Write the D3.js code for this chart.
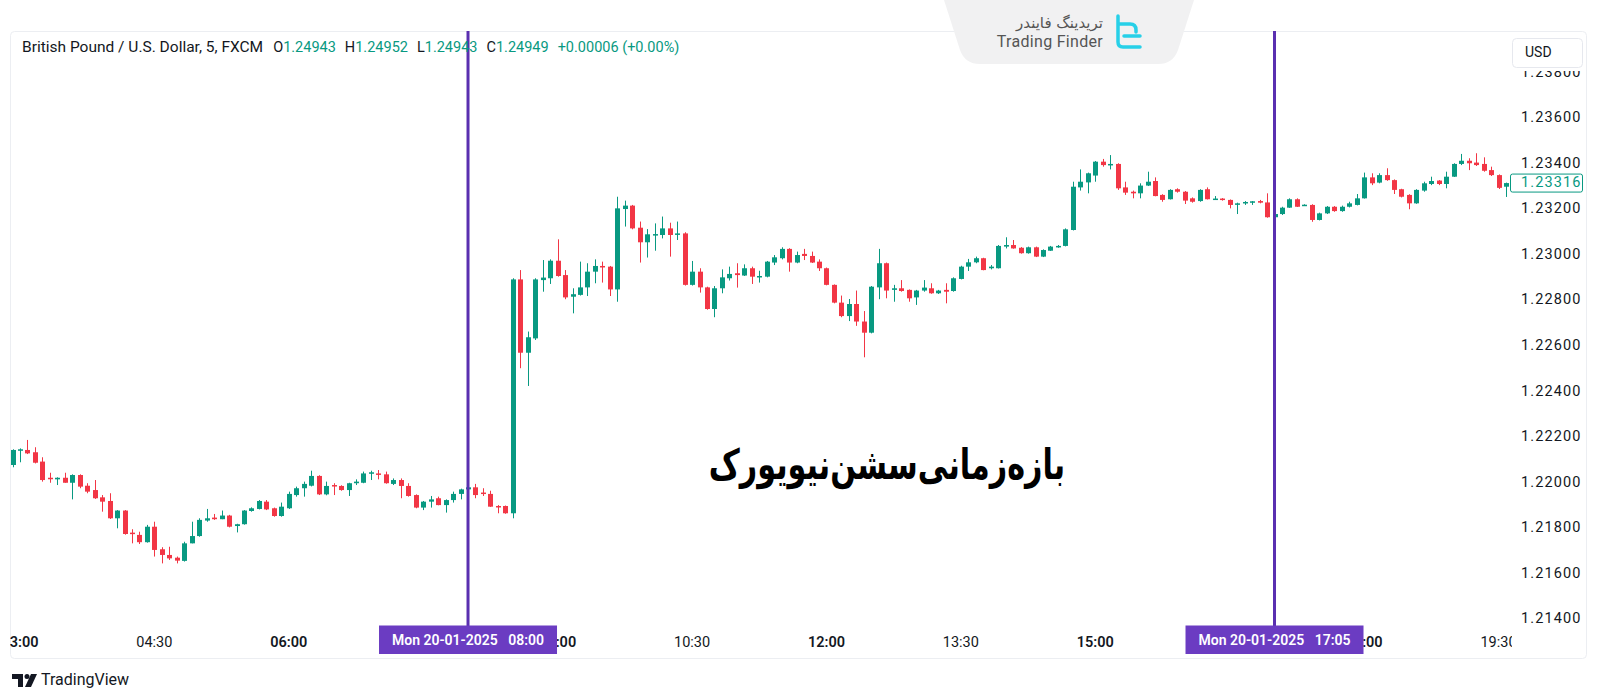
<!DOCTYPE html>
<html lang="en">
<head>
<meta charset="utf-8">
<title>GBPUSD 5m - New York session</title>
<script src="https://d3js.org/d3.v7.min.js"></script>
<style>
  body { margin: 0; background: #fff; }
  svg text { font-family: Roboto, "Noto Sans", sans-serif; }
</style>
</head>
<body>
<script>
// GBPUSD 5m candles, first bar 02:55, 20-01-2025
var open = [1.22078,1.22144,1.22144,1.22134,1.22093,1.22022,1.22015,1.22022,1.22000,1.22034,
1.21987,1.21968,1.21936,1.21920,1.21844,1.21878,1.21781,1.21771,1.21739,1.21807,
1.21708,1.21683,1.21671,1.21657,1.21734,1.21766,1.21834,1.21847,1.21840,1.21856,
1.21810,1.21818,1.21876,1.21885,1.21917,1.21888,1.21854,1.21888,1.21946,1.21976,
1.21987,1.22030,1.21949,1.21990,1.21986,1.21968,1.21998,1.22000,1.22041,1.22041,
1.22037,1.21995,1.22012,1.21986,1.21946,1.21891,1.21917,1.21932,1.21902,1.21924,
1.21951,1.21971,1.21980,1.21957,1.21951,1.21898,1.21898,1.21866,1.22893,1.22571,
1.22634,1.22890,1.22898,1.22975,1.22912,1.22817,1.22825,1.22858,1.22927,1.22952,
1.22949,1.22849,1.23202,1.23217,1.23120,1.23056,1.23088,1.23088,1.23117,1.23091,
1.23095,1.22869,1.22927,1.22858,1.22763,1.22854,1.22898,1.22920,1.22910,1.22942,
1.22902,1.22905,1.22967,1.22986,1.23027,1.22967,1.23005,1.22996,1.22971,1.22942,
1.22869,1.22791,1.22732,1.22785,1.22708,1.22659,1.22858,1.22964,1.22847,1.22854,
1.22847,1.22814,1.22844,1.22854,1.22832,1.22847,1.22842,1.22895,1.22949,1.22968,
1.22986,1.22942,1.22942,1.23037,1.23044,1.23032,1.23008,1.23034,1.22993,1.23019,
1.23034,1.23040,1.23110,1.23297,1.23319,1.23349,1.23410,1.23395,1.23400,1.23297,
1.23278,1.23271,1.23305,1.23325,1.23264,1.23245,1.23289,1.23278,1.23249,1.23237,
1.23289,1.23245,1.23248,1.23242,1.23223,1.23227,1.23233,1.23237,1.23231,1.23166,
1.23180,1.23208,1.23245,1.23218,1.23220,1.23154,1.23183,1.23212,1.23193,1.23212,
1.23220,1.23249,1.23341,1.23318,1.23351,1.23329,1.23289,1.23264,1.23227,1.23283,
1.23312,1.23327,1.23312,1.23344,1.23400,1.23414,1.23406,1.23400,1.23373,1.23351,
1.23300];
var high = [1.22147,1.22151,1.22188,1.22156,1.22112,1.22044,1.22024,1.22044,1.22037,1.22037,
1.21998,1.22012,1.21946,1.21954,1.21880,1.21880,1.21796,1.21785,1.21815,1.21829,
1.21717,1.21719,1.21676,1.21741,1.21829,1.21844,1.21885,1.21863,1.21878,1.21859,
1.21820,1.21880,1.21892,1.21924,1.21924,1.21891,1.21913,1.21961,1.21983,1.22005,
1.22053,1.22033,1.22005,1.21998,1.21989,1.22000,1.22015,1.22049,1.22053,1.22056,
1.22049,1.22019,1.22019,1.21998,1.21949,1.21920,1.21942,1.21939,1.21927,1.21961,
1.21974,1.21983,1.21995,1.21976,1.21965,1.21902,1.21900,1.22898,1.22934,1.22664,
1.22898,1.22978,1.22981,1.23069,1.22934,1.22854,1.22971,1.22964,1.22981,1.22971,
1.22952,1.23256,1.23239,1.23220,1.23147,1.23114,1.23139,1.23169,1.23142,1.23147,
1.23100,1.22974,1.22942,1.22861,1.22864,1.22937,1.22949,1.22964,1.22959,1.22949,
1.22931,1.22974,1.23000,1.23034,1.23030,1.23015,1.23027,1.23015,1.22981,1.22945,
1.22871,1.22822,1.22807,1.22844,1.22754,1.22864,1.23027,1.22967,1.22869,1.22890,
1.22849,1.22847,1.22890,1.22876,1.22847,1.22876,1.22902,1.22953,1.22983,1.22993,
1.22988,1.22956,1.23044,1.23078,1.23066,1.23035,1.23037,1.23037,1.23025,1.23040,
1.23044,1.23117,1.23322,1.23376,1.23362,1.23413,1.23422,1.23439,1.23403,1.23322,
1.23283,1.23315,1.23366,1.23341,1.23267,1.23289,1.23293,1.23281,1.23253,1.23289,
1.23297,1.23259,1.23250,1.23244,1.23230,1.23237,1.23237,1.23242,1.23271,1.23186,
1.23212,1.23249,1.23249,1.23223,1.23223,1.23186,1.23215,1.23215,1.23217,1.23234,
1.23268,1.23362,1.23359,1.23359,1.23381,1.23332,1.23291,1.23267,1.23289,1.23322,
1.23344,1.23329,1.23366,1.23403,1.23444,1.23425,1.23447,1.23429,1.23388,1.23354,
1.23318];
var low = [1.22068,1.22090,1.22126,1.22085,1.22005,1.22000,1.21990,1.22000,1.21927,1.21976,
1.21954,1.21929,1.21873,1.21841,1.21800,1.21772,1.21734,1.21731,1.21737,1.21676,
1.21646,1.21661,1.21646,1.21654,1.21734,1.21763,1.21829,1.21837,1.21840,1.21804,
1.21782,1.21816,1.21873,1.21883,1.21880,1.21851,1.21851,1.21885,1.21939,1.21939,
1.21984,1.21946,1.21945,1.21946,1.21965,1.21942,1.21990,1.21998,1.22012,1.22015,
1.21996,1.21990,1.21932,1.21939,1.21888,1.21880,1.21891,1.21901,1.21869,1.21913,
1.21927,1.21954,1.21932,1.21942,1.21894,1.21866,1.21864,1.21844,1.22503,1.22425,
1.22627,1.22839,1.22873,1.22905,1.22806,1.22744,1.22822,1.22820,1.22876,1.22879,
1.22820,1.22795,1.23125,1.23113,1.22967,1.22989,1.23019,1.23073,1.22993,1.23066,
1.22866,1.22866,1.22835,1.22760,1.22727,1.22832,1.22888,1.22857,1.22908,1.22873,
1.22879,1.22902,1.22956,1.22981,1.22927,1.22964,1.22978,1.22965,1.22930,1.22867,
1.22788,1.22727,1.22710,1.22689,1.22551,1.22656,1.22806,1.22810,1.22795,1.22839,
1.22795,1.22781,1.22839,1.22830,1.22829,1.22788,1.22839,1.22893,1.22930,1.22964,
1.22933,1.22937,1.22941,1.23029,1.23028,1.23006,1.23006,1.22991,1.22991,1.23018,
1.23032,1.23038,1.23108,1.23283,1.23271,1.23322,1.23388,1.23376,1.23286,1.23264,
1.23249,1.23249,1.23303,1.23258,1.23234,1.23244,1.23274,1.23224,1.23230,1.23234,
1.23244,1.23242,1.23239,1.23205,1.23180,1.23220,1.23220,1.23227,1.23164,1.23164,
1.23176,1.23207,1.23211,1.23217,1.23146,1.23152,1.23180,1.23190,1.23190,1.23209,
1.23218,1.23248,1.23307,1.23315,1.23326,1.23268,1.23253,1.23201,1.23225,1.23278,
1.23307,1.23307,1.23293,1.23343,1.23395,1.23373,1.23391,1.23366,1.23347,1.23290,
1.23255];
var close = [1.22144,1.22147,1.22129,1.22088,1.22012,1.22017,1.22022,1.22000,1.22034,1.21983,
1.21961,1.21932,1.21917,1.21844,1.21878,1.21775,1.21775,1.21739,1.21807,1.21705,
1.21683,1.21668,1.21658,1.21734,1.21766,1.21837,1.21844,1.21840,1.21856,1.21807,
1.21818,1.21878,1.21888,1.21920,1.21883,1.21854,1.21895,1.21951,1.21976,1.21995,
1.22030,1.21949,1.21986,1.21986,1.21968,1.21998,1.22005,1.22041,1.22046,1.22037,
1.21998,1.22012,1.21986,1.21942,1.21891,1.21917,1.21927,1.21902,1.21924,1.21951,
1.21971,1.21980,1.21946,1.21951,1.21895,1.21892,1.21866,1.22893,1.22571,1.22639,
1.22893,1.22901,1.22975,1.22908,1.22814,1.22828,1.22858,1.22927,1.22952,1.22946,
1.22849,1.23205,1.23217,1.23117,1.23056,1.23091,1.23092,1.23117,1.23088,1.23095,
1.22869,1.22927,1.22858,1.22763,1.22854,1.22902,1.22917,1.22912,1.22942,1.22905,
1.22908,1.22971,1.22990,1.23027,1.22967,1.23000,1.22996,1.22967,1.22942,1.22869,
1.22791,1.22732,1.22785,1.22708,1.22659,1.22861,1.22964,1.22844,1.22854,1.22842,
1.22810,1.22844,1.22857,1.22832,1.22844,1.22839,1.22898,1.22949,1.22968,1.22986,
1.22934,1.22949,1.23040,1.23044,1.23029,1.23008,1.23034,1.22993,1.23022,1.23037,
1.23040,1.23113,1.23300,1.23322,1.23359,1.23410,1.23395,1.23400,1.23293,1.23274,
1.23271,1.23305,1.23322,1.23259,1.23242,1.23286,1.23278,1.23239,1.23234,1.23286,
1.23245,1.23248,1.23242,1.23220,1.23227,1.23233,1.23236,1.23230,1.23166,1.23180,
1.23208,1.23245,1.23212,1.23221,1.23154,1.23183,1.23212,1.23193,1.23212,1.23227,
1.23249,1.23341,1.23315,1.23351,1.23329,1.23286,1.23256,1.23227,1.23286,1.23315,
1.23325,1.23312,1.23344,1.23400,1.23414,1.23403,1.23395,1.23370,1.23351,1.23295,
1.23316];

var priceTicks = [1.214, 1.216, 1.218, 1.220, 1.222, 1.224, 1.226, 1.228, 1.230, 1.232, 1.234, 1.236, 1.238];
var timeTicks = ["03:00","04:30","06:00","07:30","09:00","10:30","12:00","13:30","15:00","16:30","18:00","19:30"];
var markTimes = ["08:00", "17:00"];
var markLabels = ["Mon 20-01-2025   08:00", "Mon 20-01-2025   17:05"];
var lastPrice = 1.23316;
var title = "British Pound / U.S. Dollar, 5, FXCM";
var ohlcLegend = [["O","1.24943"],["H","1.24952"],["L","1.24943"],["C","1.24949"],["","+0.00006 (+0.00%)"]];
var caption = "بازه‌زمانی‌سشن‌نیویورک";

var UP = "#089981", DOWN = "#f23645", INK = "#131722";

function at(hm) {
  var p = hm.split(":");
  return new Date(2025, 0, 20, +p[0], +p[1]);
}
var firstBar = at("02:55");
var times = open.map(function(d, i) { return new Date(+firstBar + i * 5 * 60000); });

var svg = d3.select("body").append("svg").attr("width", 1600).attr("height", 700);

var x = d3.scaleTime().domain([times[0], times[times.length - 1]]).range([12.5, 1506]);
var y = d3.scaleLinear().domain([1.214, 1.236]).range([619.4, 118.4]);

var defs = svg.append("defs");
defs.append("clipPath").attr("id", "plot").append("rect")
  .attr("x", 10).attr("y", 31).attr("width", 1502).attr("height", 595);
defs.append("clipPath").attr("id", "taxis").append("rect")
  .attr("x", 10).attr("y", 626).attr("width", 1502).attr("height", 32);
defs.append("clipPath").attr("id", "paxis").append("rect")
  .attr("x", 1512).attr("y", 31).attr("width", 76).attr("height", 593);

// frame
svg.append("rect").attr("x", 10.5).attr("y", 31.5).attr("width", 1576).attr("height", 627)
  .attr("rx", 4).attr("fill", "none").attr("stroke", "#eceef2");

// candles
var bars = svg.append("g").attr("clip-path", "url(#plot)")
  .selectAll("g").data(d3.range(open.length)).join("g")
  .attr("fill", function(i) { return close[i] >= open[i] ? UP : DOWN; })
  .attr("stroke", function(i) { return close[i] >= open[i] ? UP : DOWN; });
bars.append("line")
  .attr("x1", function(i) { return Math.round(x(times[i])) + 0.5; })
  .attr("x2", function(i) { return Math.round(x(times[i])) + 0.5; })
  .attr("y1", function(i) { return y(high[i]); })
  .attr("y2", function(i) { return y(low[i]); })
  .attr("stroke-width", 1);
bars.append("rect")
  .attr("stroke", "none")
  .attr("x", function(i) { return Math.round(x(times[i])) - 2; })
  .attr("width", 5)
  .attr("y", function(i) { return y(Math.max(open[i], close[i])); })
  .attr("height", function(i) { return Math.max(1.5, Math.abs(y(open[i]) - y(close[i]))); });

// time axis labels
svg.append("g").attr("clip-path", "url(#taxis)")
  .selectAll("text").data(timeTicks).join("text")
  .attr("x", function(d) { return x(at(d)); })
  .attr("y", 643)
  .attr("text-anchor", "middle").attr("dominant-baseline", "middle")
  .attr("font-size", 14.5)
  .attr("font-weight", function(d) { return d.slice(3) === "00" ? 600 : 400; })
  .attr("fill", INK)
  .text(function(d) { return d; });

// price axis labels
svg.append("g").attr("clip-path", "url(#paxis)")
  .selectAll("text").data(priceTicks).join("text")
  .attr("x", 1521).attr("y", function(d) { return y(d); })
  .attr("dominant-baseline", "middle")
  .attr("font-size", 14.5).attr("letter-spacing", 1.1)
  .attr("fill", INK)
  .text(function(d) { return d3.format(".5f")(d); });

// last price tag
var ly = y(lastPrice);
svg.append("rect").attr("x", 1510.5).attr("y", ly - 9).attr("width", 72).attr("height", 18)
  .attr("rx", 2).attr("fill", "#fff").attr("stroke", UP);
svg.append("text").attr("x", 1521).attr("y", ly + 0.5).attr("dominant-baseline", "middle")
  .attr("font-size", 14.5).attr("letter-spacing", 1.1).attr("fill", UP)
  .text(d3.format(".5f")(lastPrice));

// currency button (with white padding that hides the top of the first label)
svg.append("rect").attr("x", 1511).attr("y", 33).attr("width", 74).attr("height", 38)
  .attr("fill", "#fff");
svg.append("rect").attr("x", 1512.5).attr("y", 38.5).attr("width", 70).attr("height", 29)
  .attr("rx", 4).attr("fill", "#fff").attr("stroke", "#e6e8ee");
svg.append("text").attr("x", 1525).attr("y", 53).attr("dominant-baseline", "middle")
  .attr("font-size", 14).attr("fill", INK).text("USD");

// session markers
var marks = svg.append("g").selectAll("g").data(markTimes).join("g");
marks.append("line")
  .attr("x1", function(d) { return x(at(d)); }).attr("x2", function(d) { return x(at(d)); })
  .attr("y1", 31).attr("y2", 626)
  .attr("stroke", "#5a2fb0").attr("stroke-width", 3);
marks.append("rect")
  .attr("x", function(d) { return x(at(d)) - 89; }).attr("y", 625.5)
  .attr("width", 178).attr("height", 28.5)
  .attr("fill", "#6b3cc2");
marks.append("text")
  .attr("x", function(d) { return x(at(d)); }).attr("y", 641)
  .attr("text-anchor", "middle").attr("dominant-baseline", "middle")
  .attr("font-size", 14).attr("font-weight", 600).attr("fill", "#fff")
  .attr("xml:space", "preserve")
  .text(function(d, i) { return markLabels[i]; });

// legend
var leg = svg.append("text").attr("x", 22).attr("y", 48).attr("dominant-baseline", "middle")
  .attr("font-size", 14.5).attr("fill", INK);
leg.append("tspan").attr("font-size", 15.5).text(title);
ohlcLegend.forEach(function(d, i) {
  var gap = i === 0 ? 10 : 9;
  if (d[0]) {
    leg.append("tspan").attr("dx", gap).attr("fill", INK).text(d[0]);
    leg.append("tspan").attr("fill", UP).text(d[1]);
  } else {
    leg.append("tspan").attr("dx", gap).attr("fill", UP).text(d[1]);
  }
});

// caption
svg.append("g").attr("transform", "translate(887,467) scale(0.72,1)")
  .append("text")
  .attr("text-anchor", "middle").attr("dominant-baseline", "middle")
  .style("font-family", "'DejaVu Sans', sans-serif")
  .attr("font-size", 42).attr("font-weight", 700).attr("fill", "#000")
  .text(caption);

// watermark
var wm = svg.append("g");
wm.append("path")
  .attr("d", "M944,0 L1194,0 L1178,50 Q1173,64 1158,64 L980,64 Q965,64 960,50 Z")
  .attr("fill", "#f1f1f2");
wm.append("text").attr("x", 1103).attr("y", 23).attr("text-anchor", "end")
  .attr("dominant-baseline", "middle")
  .style("font-family", "'DejaVu Sans', sans-serif")
  .attr("font-size", 15).attr("fill", "#555")
  .text("تریدینگ فایندر");
wm.append("text").attr("x", 1103).attr("y", 43).attr("text-anchor", "end")
  .attr("dominant-baseline", "middle")
  .attr("font-size", 16).attr("letter-spacing", 0.3).attr("fill", "#555").text("Trading Finder");
wm.append("path")
  .attr("d", "M1118,16 L1118,30 M1118,24 L1130,24 Q1136,24 1136,30 L1136,32 M1118,30 L1118,42 Q1118,47 1123,47 L1140,47 M1124,36 L1140,36")
  .attr("fill", "none").attr("stroke", "#27d0e8").attr("stroke-width", 3.5)
  .attr("stroke-linecap", "round");

// TradingView footer
var tv = svg.append("g");
tv.append("path").attr("d", "M12,674 h11 v13 h-5 v-8 h-6 Z").attr("fill", INK);
tv.append("circle").attr("cx", 27).attr("cy", 676.5).attr("r", 2.5).attr("fill", INK);
tv.append("path").attr("d", "M31,674 h6 l-6,13 h-6 Z").attr("fill", INK);
tv.append("text").attr("x", 41).attr("y", 681).attr("dominant-baseline", "middle")
  .attr("font-size", 16).attr("fill", INK).text("TradingView");
</script>
</body>
</html>
